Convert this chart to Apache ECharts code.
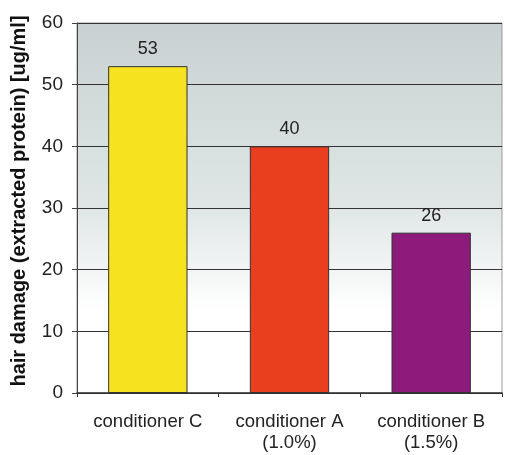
<!DOCTYPE html>
<html>
<head>
<meta charset="utf-8">
<script src="https://cdn.jsdelivr.net/npm/echarts@6/dist/echarts.min.js"></script>
<style>
  html, body { margin: 0; padding: 0; background: #fff; }
  #chart { width: 505px; height: 455px; }
</style>
</head>
<body>
<div id="chart"></div>
<script>
  // data
  var categories = ['conditioner C', 'conditioner A\n(1.0%)', 'conditioner B\n(1.5%)']
  var damage = [53, 40, 26]
  var barColors = ['#f6e21f', '#ea3f1f', '#8c1b7b']

  var chart = echarts.init(document.getElementById('chart'))
  chart.setOption({
    animation: false,
    textStyle: { fontFamily: 'Liberation Sans, Arial, sans-serif' },
    grid: {
      left: 77,
      right: 3,
      top: 23,
      bottom: 62,
      show: true,
      borderColor: '#9a9a9a',
      borderWidth: 1,
      backgroundColor: {
        type: 'linear', x: 0, y: 0, x2: 0, y2: 1,
        colorStops: [
          { offset: 0, color: '#c8d1d1' },
          { offset: 0.5, color: '#e0e6e6' },
          { offset: 0.78, color: '#ffffff' },
          { offset: 1, color: '#ffffff' }
        ]
      }
    },
    xAxis: {
      type: 'category',
      data: categories,
      axisLine: { lineStyle: { color: '#333', width: 1.5 } },
      axisTick: { show: true, interval: 0, length: 4, lineStyle: { color: '#333' } },
      axisLabel: { interval: 0, color: '#222', fontSize: 18.5, margin: 18, lineHeight: 21 }
    },
    yAxis: {
      type: 'value',
      min: 0,
      max: 60,
      interval: 10,
      name: 'hair damage (extracted protein) [ug/ml]',
      nameLocation: 'middle',
      nameGap: 48,
      nameTextStyle: { fontWeight: 'bold', fontSize: 20, color: '#111', padding: [0, 0, 0, 14] },
      axisLine: { show: true, lineStyle: { color: '#444' } },
      axisTick: { show: true, length: 5, lineStyle: { color: '#444' } },
      axisLabel: { color: '#222', fontSize: 19, margin: 14 },
      splitLine: { lineStyle: { color: '#333', width: 1.2 } }
    },
    series: [{
      type: 'bar',
      barWidth: '56%',
      data: damage.map(function (v, i) {
        return { value: v, itemStyle: { color: barColors[i] } }
      }),
      itemStyle: { borderColor: '#333', borderWidth: 1 },
      label: { show: true, position: 'top', distance: 8, fontSize: 18, color: '#222' }
    }]
  })
</script>
</body>
</html>
